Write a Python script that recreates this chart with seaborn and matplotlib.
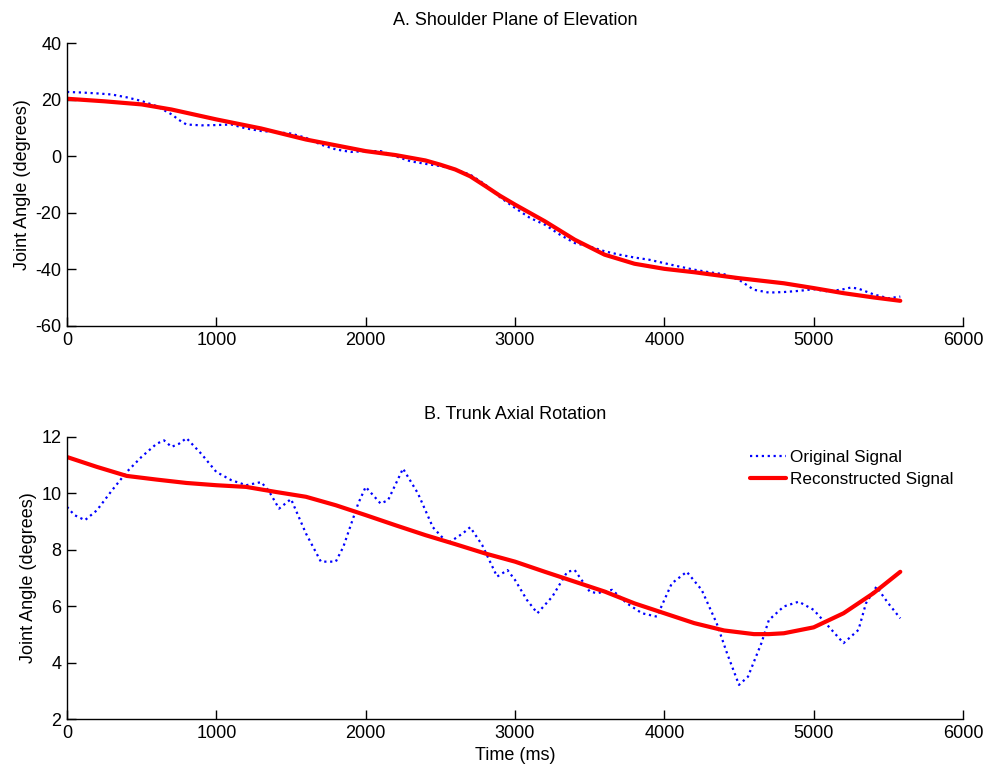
import matplotlib
matplotlib.use("Agg")
import matplotlib.pyplot as plt
import seaborn as sns

# ---- Data ----
a_orig_t = [0, 100, 200, 300, 400, 500, 600, 700, 750, 800, 900, 1000, 1100, 1200, 1300, 1400, 1500, 1600,
            1700, 1800, 1900, 2000, 2100, 2200, 2300, 2400, 2500, 2600, 2700, 2800, 2900, 3000, 3100, 3200,
            3300, 3400, 3500, 3600, 3700, 3800, 3900, 4000, 4100, 4200, 4300, 4400, 4500, 4600, 4700, 4800,
            4900, 5000, 5100, 5200, 5250, 5300, 5400, 5500, 5580]
a_orig_v = [22.7, 22.5, 22.2, 21.8, 20.8, 19.5, 17.7, 14.8, 12.8, 11.2, 10.9, 11.0, 11.2, 9.8, 8.9, 8.5, 8.0, 6.5,
            4.1, 2.4, 1.5, 1.8, 1.8, 0.0, -1.8, -2.7, -3.5, -4.7, -6.5, -10.0, -14.5, -18.3, -21.8, -24.2,
            -27.7, -30.7, -31.9, -33.6, -34.8, -35.8, -36.6, -37.8, -39.0, -40.1, -41.0, -41.7, -43.7, -47.2,
            -48.2, -48.0, -47.6, -47.0, -47.8, -47.0, -46.4, -46.8, -48.8, -50.2, -49.6]

a_rec_t = [0, 250, 500, 700, 1000, 1300, 1600, 2000, 2200, 2400, 2500, 2600, 2700, 2800, 2900, 3000, 3200, 3400,
           3600, 3800, 4000, 4200, 4500, 4800, 5000, 5200, 5400, 5580]
a_rec_v = [20.3, 19.4, 18.3, 16.5, 13.0, 9.8, 5.9, 1.8, 0.4, -1.5, -3.0, -4.7, -7.1, -10.5, -14.0, -17.1, -23.0,
           -29.5, -34.8, -38.0, -39.8, -41.0, -43.1, -44.9, -46.6, -48.4, -49.9, -51.1]

b_orig_t = [0, 50, 120, 200, 300, 400, 500, 600, 650, 700, 750, 800, 900, 1000, 1100, 1200, 1300, 1350, 1420,
            1500, 1600, 1700, 1800, 1850, 1950, 2000, 2100, 2150, 2250, 2350, 2450, 2550, 2650, 2700, 2780,
            2880, 2950, 3000, 3080, 3150, 3250, 3350, 3400, 3500, 3550, 3650, 3750, 3850, 3950, 4050, 4150,
            4250, 4350, 4420, 4500, 4560, 4650, 4700, 4800, 4900, 5000, 5100, 5200, 5300, 5350, 5420, 5500, 5580]
b_orig_v = [9.52, 9.23, 9.05, 9.4, 10.1, 10.76, 11.3, 11.76, 11.88, 11.65, 11.76, 11.96, 11.4, 10.76, 10.47,
            10.29, 10.4, 10.1, 9.46, 9.8, 8.58, 7.58, 7.58, 8.1, 9.64, 10.23, 9.64, 9.76, 10.88, 10.0, 8.8,
            8.23, 8.58, 8.8, 8.17, 7.05, 7.28, 6.93, 6.22, 5.75, 6.34, 7.22, 7.28, 6.52, 6.46, 6.58, 6.1,
            5.75, 5.63, 6.81, 7.22, 6.58, 5.4, 4.33, 3.21, 3.5, 4.69, 5.51, 5.99, 6.16, 5.87, 5.28, 4.69,
            5.16, 6.1, 6.69, 6.1, 5.57]

b_rec_t = [0, 200, 400, 600, 800, 1000, 1200, 1400, 1600, 1800, 2000, 2200, 2400, 2600, 2800, 3000, 3200,
           3400, 3600, 3800, 4000, 4200, 4400, 4600, 4700, 4800, 5000, 5200, 5400, 5580]
b_rec_v = [11.29, 10.94, 10.62, 10.49, 10.37, 10.29, 10.23, 10.05, 9.88, 9.58, 9.23, 8.87, 8.52, 8.2, 7.87,
           7.58, 7.22, 6.87, 6.52, 6.1, 5.75, 5.4, 5.14, 5.01, 5.01, 5.04, 5.25, 5.75, 6.46, 7.22]

titles = ["A. Shoulder Plane of Elevation", "B. Trunk Axial Rotation"]
ylabel = "Joint Angle (degrees)"
xlabel = "Time (ms)"
labels = ["Original Signal", "Reconstructed Signal"]
x_ticks = [0, 1000, 2000, 3000, 4000, 5000, 6000]
a_yticks = [-60, -40, -20, 0, 20, 40]
b_yticks = [2, 4, 6, 8, 10, 12]

sns.set_style("white")
plt.rcParams['font.family'] = ['Liberation Sans', 'DejaVu Sans']
plt.rcParams['text.color'] = 'black'
plt.rcParams['axes.labelcolor'] = 'black'

fig = plt.figure(figsize=(9.9, 7.68), dpi=100)
W, H = 990, 768
def pos(l, t, r, b):
    return [l / W, 1 - b / H, (r - l) / W, (b - t) / H]

ax1 = fig.add_axes(pos(67, 43, 963, 326))
ax2 = fig.add_axes(pos(67, 437, 963, 719))

BLUE = "#0000ff"
RED = "#ff0000"

sns.lineplot(x=a_orig_t, y=a_orig_v, ax=ax1, color=BLUE, linestyle=':', linewidth=1.6, sort=False)
sns.lineplot(x=a_rec_t, y=a_rec_v, ax=ax1, color=RED, linewidth=3.0, sort=False)
sns.lineplot(x=b_orig_t, y=b_orig_v, ax=ax2, color=BLUE, linestyle=':', linewidth=1.6, sort=False, label=labels[0])
sns.lineplot(x=b_rec_t, y=b_rec_v, ax=ax2, color=RED, linewidth=3.0, sort=False, label=labels[1])

for ax, yt, title, tpad in [(ax1, a_yticks, titles[0], 13), (ax2, b_yticks, titles[1], 13)]:
    ax.set_xlim(0, 6000)
    ax.set_ylim(yt[0], yt[-1])
    ax.set_xticks(x_ticks)
    ax.set_yticks(yt)
    ax.set_xticklabels([str(v) for v in x_ticks])
    ax.set_yticklabels([str(v) for v in yt])
    for s in ['top', 'right']:
        ax.spines[s].set_visible(False)
    for s in ['left', 'bottom']:
        ax.spines[s].set_color('black')
        ax.spines[s].set_linewidth(1.0)
    ax.tick_params(axis='both', which='major', direction='in', length=6.5, width=1.0, color='black',
                   labelsize=13, labelcolor='black', pad=4, bottom=True, left=True, top=False, right=False)
    ax.set_ylabel(ylabel, fontsize=13, labelpad=3, color='black')
    ax.set_title(title, fontsize=13, pad=tpad, color='black')
    ax.set_xlabel("")

ax2.set_xlabel(xlabel, fontsize=13, labelpad=4, color='black')

leg = ax2.legend(loc='upper left', bbox_to_anchor=(0.762, 0.955), frameon=False, fontsize=12.3,
                 handlelength=2.1, handletextpad=0.25, labelspacing=0.42, borderpad=0, borderaxespad=0)
for t in leg.get_texts():
    t.set_color('black')

fig.savefig("out.png", dpi=100)
